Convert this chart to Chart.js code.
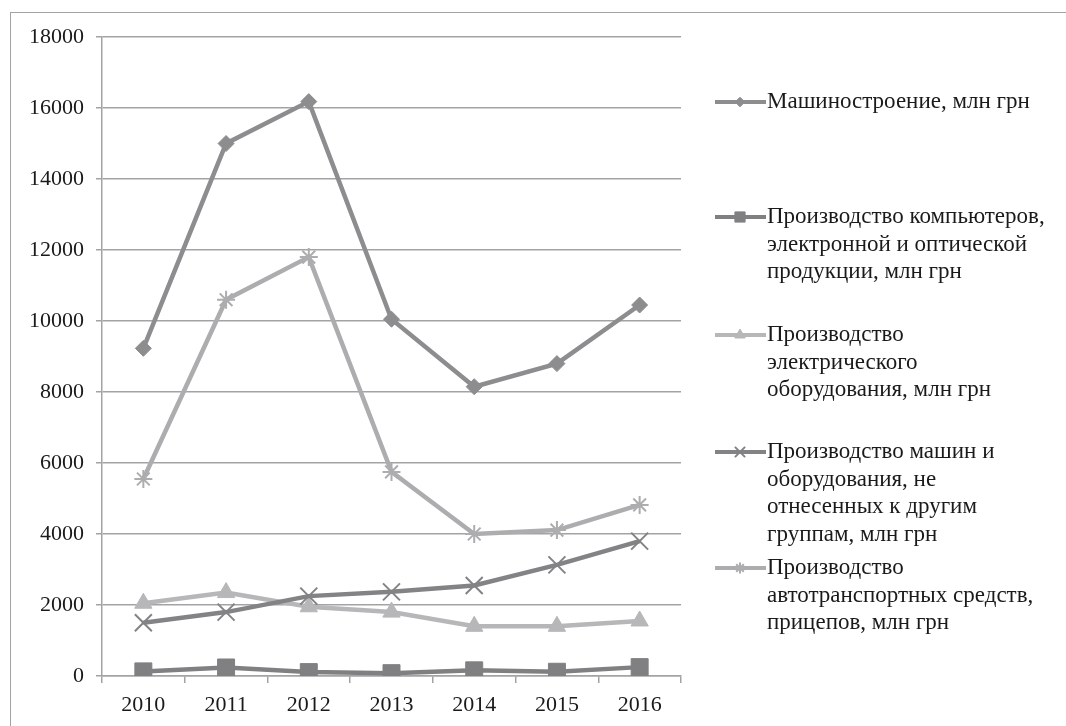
<!DOCTYPE html>
<html lang="ru">
<head>
  <meta charset="UTF-8">
  <title>Машиностроение</title>
  <style>
    html, body { margin: 0; padding: 0; background: #fff; overflow: hidden; }
    #frame { position: absolute; left: 10px; top: 12px; width: 1100px; height: 800px; border: 1.5px solid #a3a3a3; }
    #wrap { position: absolute; left: 0; top: 0; width: 1066px; height: 726px; }
  </style>
  <script src="https://cdn.jsdelivr.net/npm/chart.js"></script>
</head>
<body>
  <div id="frame"></div>
  <div id="wrap"><canvas id="chart" width="1066" height="726"></canvas></div>

  <script>
    const years = ['2010', '2011', '2012', '2013', '2014', '2015', '2016'];

    const machineBuilding = [9230, 15000, 16180, 10050, 8150, 8800, 10450];
    const computers = [130, 240, 110, 80, 160, 120, 250];
    const electrical = [2050, 2350, 1950, 1800, 1400, 1400, 1550];
    const machinery = [1500, 1800, 2250, 2370, 2550, 3130, 3800];
    const vehicles = [5550, 10600, 11800, 5750, 4000, 4110, 4820];

    const seriesNames = [
      ['Машиностроение, млн грн'],
      ['Производство компьютеров,', 'электронной и оптической', 'продукции, млн грн'],
      ['Производство', 'электрического', 'оборудования, млн грн'],
      ['Производство машин и', 'оборудования, не', 'отнесенных к другим', 'группам, млн грн'],
      ['Производство', 'автотранспортных средств,', 'прицепов, млн грн']
    ];

    const font = '"Liberation Serif", "Times New Roman", serif';
    const gridColor = '#a3a3a3';

    function series(i, data, color, style, radius, bw) {
      return {
        label: seriesNames[i].join(' '),
        data: data,
        borderColor: color,
        backgroundColor: color,
        borderWidth: 4.5,
        pointStyle: style,
        pointRadius: radius,
        pointHoverRadius: radius,
        pointBorderWidth: bw,
        pointBorderColor: color,
        pointBackgroundColor: color,
        tension: 0,
        order: 4 - i,
        legendRadius: radius * 0.6
      };
    }

    // legend on the right, multi-line labels
    const sideLegend = {
      id: 'sideLegend',
      afterDraw(chart) {
        const ctx = chart.ctx;
        const tops = [102, 217, 335, 452, 568];
        const lh = 27.5;
        chart.data.datasets.forEach((ds, i) => {
          const y = tops[i];
          ctx.save();
          ctx.strokeStyle = ds.borderColor;
          ctx.lineWidth = 4;
          ctx.beginPath();
          ctx.moveTo(715, y);
          ctx.lineTo(766, y);
          ctx.stroke();
          ctx.fillStyle = ds.borderColor;
          ctx.lineWidth = ds.pointBorderWidth;
          Chart.helpers.drawPoint(ctx, {
            pointStyle: ds.pointStyle,
            radius: ds.legendRadius,
            rotation: 0,
            borderWidth: ds.pointBorderWidth
          }, 740, y);
          ctx.fillStyle = '#1a1a1a';
          ctx.font = '23px ' + font;
          ctx.textBaseline = 'middle';
          ctx.textAlign = 'left';
          seriesNames[i].forEach((line, k) => ctx.fillText(line, 767, y + k * lh));
          ctx.restore();
        });
      }
    };

    new Chart(document.getElementById('chart'), {
      type: 'line',
      data: {
        labels: years,
        datasets: [
          series(0, machineBuilding, '#8d8d8f', 'rectRot', 8, 1),
          series(1, computers, '#808082', 'rect', 12, 1),
          series(2, electrical, '#b7b7b9', 'triangle', 10, 1),
          series(3, machinery, '#838385', 'crossRot', 12, 2),
          series(4, vehicles, '#adadaf', 'star', 9, 2)
        ]
      },
      options: {
        responsive: false,
        animation: false,
        devicePixelRatio: 1,
        layout: { padding: { left: 0, top: 37, right: 385, bottom: 0 } },
        plugins: {
          legend: { display: false },
          tooltip: { enabled: false }
        },
        scales: {
          x: {
            offset: true,
            grid: { offset: true, drawOnChartArea: false, drawTicks: true, tickLength: 7, color: gridColor, lineWidth: 1.5 },
            border: { color: gridColor, width: 1.5 },
            ticks: { color: '#1a1a1a', font: { family: font, size: 22 }, padding: 9 },
            afterFit(scale) { scale.height = 50; }
          },
          y: {
            min: 0,
            max: 18000,
            ticks: {
              stepSize: 2000,
              color: '#1a1a1a',
              font: { family: font, size: 22 },
              padding: 12,
              callback: v => String(v)
            },
            grid: { color: gridColor, lineWidth: 1.5, tickLength: 6 },
            border: { color: gridColor, width: 1.5 },
            afterFit(scale) { scale.width = 102; }
          }
        }
      },
      plugins: [sideLegend]
    });
  </script>
</body>
</html>
